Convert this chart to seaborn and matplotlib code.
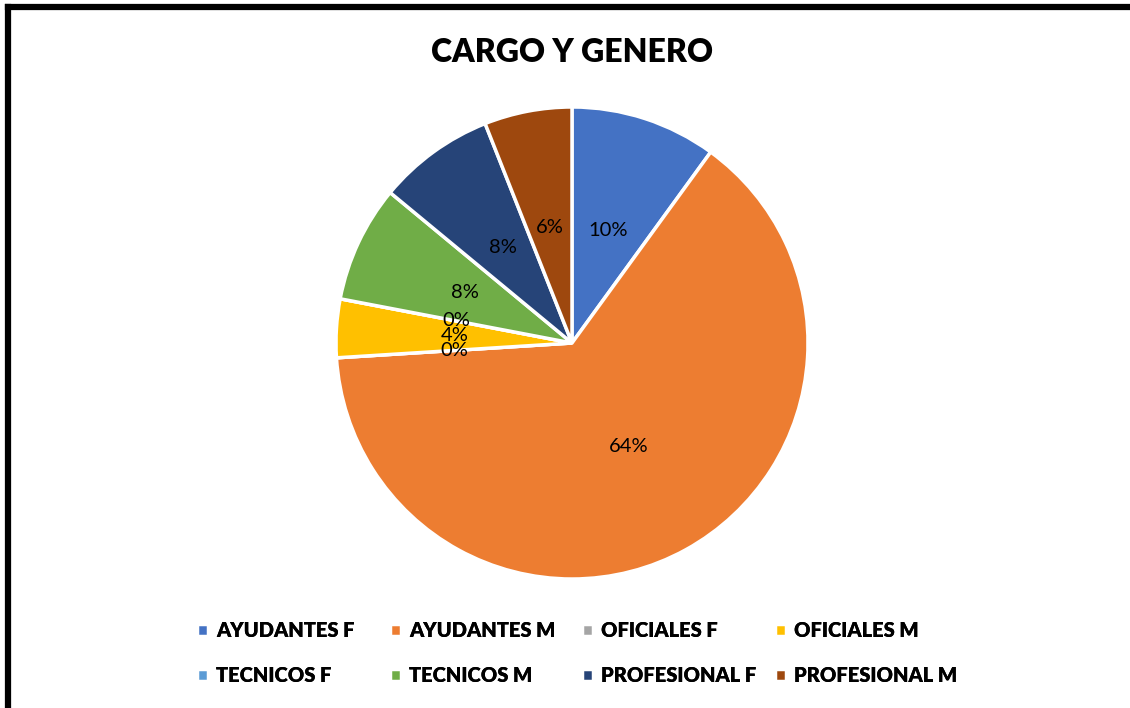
import matplotlib.pyplot as plt
import seaborn as sns
from matplotlib.lines import Line2D

# data
categories = ['AYUDANTES F', 'AYUDANTES M', 'OFICIALES F', 'OFICIALES M',
              'TECNICOS F', 'TECNICOS M', 'PROFESIONAL F', 'PROFESIONAL M']
shares = [10, 64, 0, 4, 0, 8, 8, 6]
colors = ['#4472C4', '#ED7D31', '#A5A5A5', '#FFC000',
          '#5B9BD5', '#70AD47', '#264478', '#9E480E']

sns.set_theme(style="white")
plt.rcParams['font.family'] = ['Lato', 'DejaVu Sans']
plt.rcParams['text.color'] = 'black'

fig = plt.figure(figsize=(11.3, 7.08), dpi=100)
W, H = 1130, 708
cx, cy, r = 572, 343, 236
ax = fig.add_axes([(cx - r) / W, 1 - (cy + r) / H, 2 * r / W, 2 * r / H])

wedges, texts, autotexts = ax.pie(
    shares, colors=colors, startangle=90, counterclock=False,
    autopct='%1.0f%%', pctdistance=0.5,
    wedgeprops=dict(edgecolor='white', linewidth=2.5),
    textprops=dict(fontsize=14.5, color='black'))
ax.set_xlim(-1, 1)
ax.set_ylim(-1, 1)
ax.set_aspect('equal')
for w in wedges:
    w.set_clip_on(False)

fig.text(cx / W, 1 - 52 / H, 'CARGO Y GENERO', ha='center', va='center',
         fontsize=23, fontweight='heavy', color='black')

# legend: 4 evenly spaced columns, 2 rows (row-major like Excel)
col_x = [197, 390, 582, 775]
for j, x in enumerate(col_x):
    idx = [j, j + 4]
    leg = fig.legend([wedges[i] for i in idx], [categories[i] for i in idx],
                     loc='center left', bbox_to_anchor=(x / W, 1 - 653 / H),
                     frameon=False, prop=dict(weight='heavy', size=14.5),
                     labelcolor='black', borderpad=0, borderaxespad=0,
                     handlelength=0.55, handleheight=0.55, handletextpad=0.4,
                     labelspacing=1.3)
    fig.add_artist(leg)

# frame lines (left and top)
fig.add_artist(Line2D([8 / W, 8 / W], [0, 1 - 7 / H], color='black', linewidth=4.5,
                      transform=fig.transFigure, solid_capstyle='projecting'))
fig.add_artist(Line2D([8 / W, 1], [1 - 7 / H, 1 - 7 / H], color='black', linewidth=4.5,
                      transform=fig.transFigure, solid_capstyle='projecting'))

fig.savefig('out.png', dpi=100)
plt.close(fig)
